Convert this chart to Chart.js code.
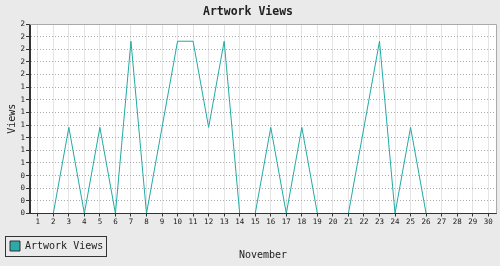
<!DOCTYPE html>
<html lang="en">
<head>
<meta charset="utf-8">
<title>Artwork Views</title>
<script src="https://cdn.jsdelivr.net/npm/chart.js@4/dist/chart.umd.min.js"></script>
<style>
  body { margin: 0; background: #eaeaea; }
  .wrap { width: 500px; height: 266px; }
</style>
</head>
<body>
<div class="wrap"><canvas id="views-chart"></canvas></div>
<script>
const days = ['1','2','3','4','5','6','7','8','9','10','11','12','13','14','15',
              '16','17','18','19','20','21','22','23','24','25','26','27','28','29','30'];
const views = [0,0,1,0,1,0,2,0,1,2,2,1,2,0,0,1,0,1,0,0,0,1,2,0,1,0,0,0,0,0];
const yMax = 2.2;
const yTickCount = 16;

Chart.defaults.font.family = '"DejaVu Sans Mono", monospace';
Chart.defaults.color = '#222';

// white plot area, frame, legend border and the x caption
const plotFrame = {
  id: 'plotFrame',
  beforeDraw(chart) {
    const { ctx, chartArea: a } = chart;
    ctx.save();
    ctx.fillStyle = '#fff';
    ctx.fillRect(a.left, a.top, a.right - a.left, a.bottom - a.top);
    ctx.restore();
  },
  afterDatasetsDraw(chart) {
    const { ctx, chartArea: a } = chart;
    const l = Math.floor(a.left) - 0.5, r = Math.round(a.right) + 0.5;
    const t = Math.floor(a.top) + 0.5, b = Math.floor(a.bottom) + 0.5;
    ctx.save();
    ctx.lineWidth = 1;
    ctx.strokeStyle = '#aaa';
    ctx.beginPath();
    ctx.moveTo(l, t); ctx.lineTo(r, t); ctx.lineTo(r, b);
    ctx.stroke();
    ctx.strokeStyle = '#333';
    ctx.beginPath();
    ctx.moveTo(l, t); ctx.lineTo(l, b); ctx.lineTo(r, b);
    ctx.stroke();
    ctx.restore();
  },
  afterDraw(chart) {
    const { ctx, chartArea: a } = chart;
    ctx.save();
    const h = chart.legend.legendHitBoxes[0];
    if (h) {
      ctx.strokeStyle = '#333';
      ctx.lineWidth = 1;
      ctx.strokeRect(Math.round(h.left - 5) + 0.5, Math.round(h.top - 5) + 0.5,
                     Math.round(h.width + 8), Math.round(h.height + 10));
    }
    ctx.fillStyle = '#222';
    ctx.font = '10px "DejaVu Sans Mono"';
    ctx.textAlign = 'center';
    ctx.textBaseline = 'middle';
    ctx.fillText('November', (a.left + a.right) / 2, 255);
    ctx.restore();
  }
};

new Chart(document.getElementById('views-chart'), {
  type: 'line',
  data: {
    labels: days,
    datasets: [{
      label: 'Artwork Views',
      data: views,
      borderColor: '#22aaa6',
      backgroundColor: '#2aaaa8',
      borderWidth: 1,
      pointRadius: 0,
      tension: 0,
      fill: false
    }]
  },
  options: {
    responsive: true,
    maintainAspectRatio: false,
    animation: false,
    layout: { padding: { left: 0, right: 4, top: 0, bottom: 5 } },
    plugins: {
      title: {
        display: true,
        text: 'Artwork Views',
        font: { size: 11.5, weight: 'bold' },
        color: '#222',
        padding: { top: 5, bottom: 5.2 }
      },
      legend: {
        position: 'bottom',
        align: 'start',
        labels: {
          font: { size: 10 },
          color: '#222',
          boxWidth: 10,
          boxHeight: 10,
          padding: 10,
          generateLabels(chart) {
            const items = Chart.defaults.plugins.legend.labels.generateLabels(chart);
            items.forEach(it => { it.strokeStyle = '#333'; it.lineWidth = 1; });
            return items;
          }
        }
      },
      tooltip: { enabled: false }
    },
    scales: {
      x: {
        offset: true,
        afterFit(s) { s.height = 17.5; },
        grid: { color: '#e4e4e4', offset: false, tickLength: 3, tickColor: '#333' },
        border: { color: '#333' },
        ticks: { font: { size: 7.5 }, color: '#222', padding: 1, maxRotation: 0, autoSkip: false }
      },
      y: {
        min: 0,
        max: yMax,
        afterFit(s) { s.width = 30; },
        grid: { color: '#aaa', tickLength: 4, tickColor: '#333' },
        border: { color: '#333', dash: [1, 2] },
        ticks: {
          count: yTickCount,
          font: { size: 7.5 },
          color: '#222',
          padding: 1,
          autoSkip: false,
          callback: v => Math.round(v)
        },
        title: {
          display: true,
          text: 'Views',
          font: { size: 10 },
          color: '#222',
          padding: { top: 6, bottom: 0 }
        }
      }
    }
  },
  plugins: [plotFrame]
});
</script>
</body>
</html>
